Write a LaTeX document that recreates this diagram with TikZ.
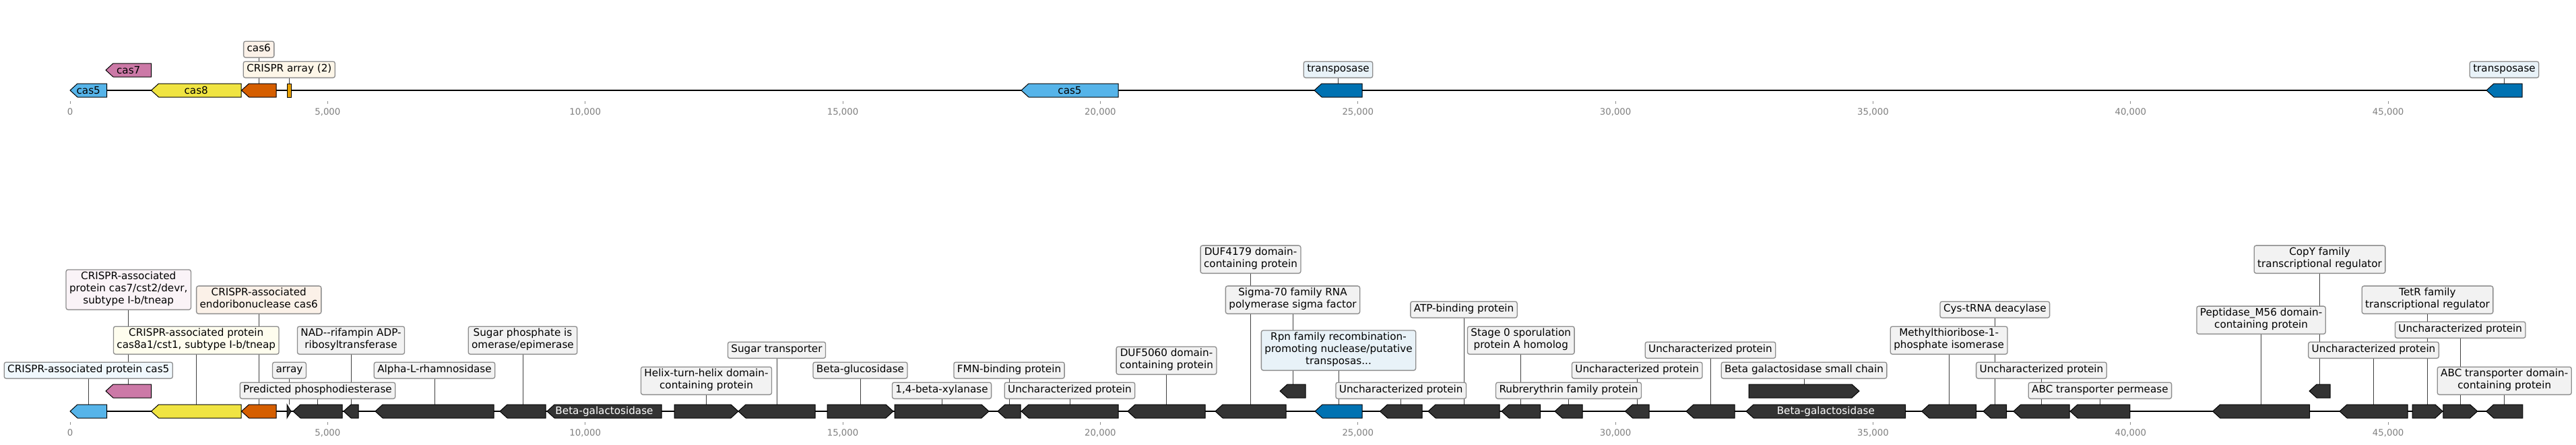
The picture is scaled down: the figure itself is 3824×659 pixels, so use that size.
\documentclass[tikz,border=0pt]{standalone}
\usepackage{fontspec}
\setmainfont{DejaVu Sans}
\usetikzlibrary{positioning,backgrounds}

\definecolor{cfive}{HTML}{56B4E9}
\definecolor{cseven}{HTML}{CC79A7}
\definecolor{ceight}{HTML}{F0E442}
\definecolor{csix}{HTML}{D55E00}
\definecolor{carray}{HTML}{E69F00}
\definecolor{ctnp}{HTML}{0072B2}
\definecolor{cdark}{HTML}{333333}
\definecolor{cbox}{HTML}{F2F2F2}

% gene arrows: name, start, end, y centre, fill
\newcommand{\genel}[5]{%
  \draw[gene, fill=#5] (#2,#4) -- (#2+11,#4-10) -- (#3,#4-10) -- (#3,#4+10) -- (#2+11,#4+10) -- cycle;
  \coordinate (#1) at ({(#2+#3)/2},#4-10);
  \coordinate (#1c) at ({(#2+#3)/2},#4);}
\newcommand{\gener}[5]{%
  \draw[gene, fill=#5] (#3,#4) -- (#3-11,#4-10) -- (#2,#4-10) -- (#2,#4+10) -- (#3-11,#4+10) -- cycle;
  \coordinate (#1) at ({(#2+#3)/2},#4-10);
  \coordinate (#1c) at ({(#2+#3)/2},#4);}

\begin{document}
\begin{tikzpicture}[x=1pt, y=-1pt]
            \tikzstyle{gene}=[draw=black, line width=1pt, line join=miter]
            \tikzstyle{lab}=[draw=black!45, fill=cbox, line width=1.3pt, rounded corners=3pt,
              font=\fontsize{15.2}{18.2}\selectfont, align=center, inner xsep=5pt, inner ysep=3pt,
              execute at begin node=\strut, execute at end node=\strut]
            \tikzstyle{glab}=[font=\fontsize{15.2}{18.2}\selectfont, inner sep=0pt]
            \tikzstyle{conn}=[draw=black!75, line width=0.9pt]
            \tikzstyle{axis}=[line width=2.2pt, black]
            \tikzstyle{tick}=[draw=black!45, line width=0.8pt]
            \tikzstyle{num}=[font=\fontsize{13.3}{16}\selectfont, text=black!50, anchor=base, inner sep=0pt]
            \useasboundingbox (0,0) rectangle (3824,659);

            % top track
            \draw[axis] (104,134) -- (3744,134);
            \genel{T1}{104}{158.5}{134}{cfive}
            \genel{T2}{157}{224.5}{104}{cseven}
            \genel{T3}{224.5}{358}{134}{ceight}
            \genel{T4}{358.5}{410}{134}{csix}
            \draw[gene, fill=carray] (426,124) rectangle (432.6,144);
            \coordinate (T5) at (429.3,124);
            \genel{T6}{1516}{1660}{134}{cfive}
            \genel{T7}{1951}{2022}{134}{ctnp}
            \genel{T8}{3691}{3744}{134}{ctnp}
            \node[glab] (nT1) at (T1c) {cas5};
            \node[glab] (nT2) at (T2c) {cas7};
            \node[glab] (nT3) at (T3c) {cas8};
            \node[glab] (nT6) at (T6c) {cas5};
            \node[lab, fill=csix!9!white, above=38pt of T4] (LT4) {cas6};
            \node[lab, fill=carray!9!white, above=8pt of T5] (LT5) {CRISPR array (2)};
            \node[lab, fill=ctnp!9!white, above=8pt of T7] (LT7) {transposase};
            \node[lab, fill=ctnp!9!white, above=8pt of T8] (LT8) {transposase};

            % bottom track
            \draw[axis] (104,610) -- (3744,610);
            \genel{B1}{104}{158.5}{610}{cfive}
            \genel{B2}{157}{224.5}{580}{cseven}
            \genel{B3}{224.5}{358}{610}{ceight}
            \genel{B4}{358.5}{410}{610}{csix}
            \draw[gene, fill=cdark] (426,600) -- (432,610) -- (426,620) -- cycle;
            \coordinate (B5) at (429.5,600);
            \genel{B6}{435}{508}{610}{cdark}
            \genel{B7}{510}{532}{610}{cdark}
            \genel{B8}{557}{733}{610}{cdark}
            \genel{B9}{742}{810}{610}{cdark}
            \genel{B10}{812}{982}{610}{cdark}
            \gener{B11}{1001}{1096}{610}{cdark}
            \genel{B12}{1096}{1210}{610}{cdark}
            \gener{B13}{1228}{1326}{610}{cdark}
            \gener{B14}{1328}{1468}{610}{cdark}
            \genel{B15}{1481}{1515}{610}{cdark}
            \genel{B16}{1516}{1660}{610}{cdark}
            \genel{B17}{1674}{1789}{610}{cdark}
            \genel{B18}{1804}{1909}{610}{cdark}
            \genel{B19}{1900}{1938}{580}{cdark}
            \genel{B20}{1952}{2022}{610}{ctnp}
            \genel{B21}{2048.5}{2111}{610}{cdark}
            \genel{B22}{2120}{2226}{610}{cdark}
            \genel{B23}{2229}{2286.5}{610}{cdark}
            \genel{B24}{2308}{2349}{610}{cdark}
            \genel{B25}{2412.5}{2448}{610}{cdark}
            \genel{B26}{2503}{2575}{610}{cdark}
            \genel{B27}{2592}{2828.6}{610}{cdark}
            \gener{B28}{2596}{2760}{580}{cdark}
            \genel{B29}{2852.7}{2933.5}{610}{cdark}
            \genel{B30}{2944}{2978.6}{610}{cdark}
            \genel{B31}{2988.8}{3072}{610}{cdark}
            \genel{B32}{3073}{3161.8}{610}{cdark}
            \genel{B33}{3284.6}{3428.5}{610}{cdark}
            \genel{B34}{3428}{3459}{580}{cdark}
            \genel{B35}{3473}{3574}{610}{cdark}
            \gener{B36}{3581}{3626}{610}{cdark}
            \gener{B37}{3626.7}{3677.7}{610}{cdark}
            \genel{B38}{3690.7}{3744.7}{610}{cdark}
            \node[glab, text=white] (nB10) at (B10c) {Beta-galactosidase};
            \node[glab, text=white] (nB27) at (B27c) {Beta-galactosidase};

            \node[lab, fill=cfive!9!white, above=38pt of B1] (LB1) {CRISPR-associated protein cas5};
            \node[lab, fill=cseven!9!white, above=110pt of B2] (LB2) {CRISPR-associated\\protein cas7/cst2/devr,\\subtype I-b/tneap};
            \node[lab, fill=ceight!9!white, above=74pt of B3] (LB3) {CRISPR-associated protein\\cas8a1/cst1, subtype I-b/tneap};
            \node[lab, fill=csix!9!white, above=134pt of B4] (LB4) {CRISPR-associated\\endoribonuclease cas6};
            \node[lab, above=38pt of B5] (LB5) {array};
            \node[lab, above=8pt of B6] (LB6) {Predicted phosphodiesterase};
            \node[lab, above=74pt of B7] (LB7) {NAD-{}-rifampin ADP-\\ribosyltransferase};
            \node[lab, above=38pt of B8] (LB8) {Alpha-L-rhamnosidase};
            \node[lab, above=74pt of B9] (LB9) {Sugar phosphate is\\omerase/epimerase};
            \node[lab, above=14pt of B11] (LB11) {Helix-turn-helix domain-\\containing protein};
            \node[lab, above=68pt of B12] (LB12) {Sugar transporter};
            \node[lab, above=38pt of B13] (LB13) {Beta-glucosidase};
            \node[lab, above=8pt of B14] (LB14) {1,4-beta-xylanase};
            \node[lab, above=38pt of B15] (LB15) {FMN-binding protein};
            \node[lab, above=8pt of B16] (LB16) {Uncharacterized protein};
            \node[lab, above=44pt of B17] (LB17) {DUF5060 domain-\\containing protein};
            \node[lab, above=194pt of B18] (LB18) {DUF4179 domain-\\containing protein};
            \node[lab, above=104pt of B19] (LB19) {Sigma-70 family RNA\\polymerase sigma factor};
            \node[lab, fill=ctnp!9!white, above=50pt of B20] (LB20) {Rpn family recombination-\\promoting nuclease/putative\\transposas...};
            \node[lab, above=8pt of B21] (LB21) {Uncharacterized protein};
            \node[lab, above=128pt of B22] (LB22) {ATP-binding protein};
            \node[lab, above=74pt of B23] (LB23) {Stage 0 sporulation\\protein A homolog};
            \node[lab, above=8pt of B24] (LB24) {Rubrerythrin family protein};
            \node[lab, above=38pt of B25] (LB25) {Uncharacterized protein};
            \node[lab, above=68pt of B26] (LB26) {Uncharacterized protein};
            \node[lab, above=8pt of B28] (LB28) {Beta galactosidase small chain};
            \node[lab, above=74pt of B29] (LB29) {Methylthioribose-1-\\phosphate isomerase};
            \node[lab, above=128pt of B30] (LB30) {Cys-tRNA deacylase};
            \node[lab, above=38pt of B31] (LB31) {Uncharacterized protein};
            \node[lab, above=8pt of B32] (LB32) {ABC transporter permease};
            \node[lab, above=104pt of B33] (LB33) {Peptidase\_M56 domain-\\containing protein};
            \node[lab, above=164pt of B34] (LB34) {CopY family\\transcriptional regulator};
            \node[lab, above=68pt of B35] (LB35) {Uncharacterized protein};
            \node[lab, above=134pt of B36] (LB36) {TetR family\\transcriptional regulator};
            \node[lab, above=98pt of B37] (LB37) {Uncharacterized protein};
            \node[lab, above=14pt of B38] (LB38) {ABC transporter domain-\\containing protein};

            % connectors behind the boxes
            \begin{pgfonlayer}{background}
              \fill[white] (0,0) rectangle (3824,659);
              \foreach \g in {T4,T5,T7,T8,B1,B2,B3,B4,B5,B6,B7,B8,B9,B11,B12,B13,B14,B15,B16,B17,B18,B19,
                B20,B21,B22,B23,B24,B25,B26,B28,B29,B30,B31,B32,B33,B34,B35,B36,B37,B38}
                \draw[conn] (\g) -- (L\g);
            \end{pgfonlayer}

            % scale
            \foreach \k/\t in {0/0,1/{5,000},2/{10,000},3/{15,000},4/{20,000},5/{25,000},6/{30,000},7/{35,000},8/{40,000},9/{45,000}} {
              \draw[tick] ({104+\k*382.35},150) -- ({104+\k*382.35},154);
              \node[num] (ta\k) at ({104+\k*382.35},170.7) {\t};
              \draw[tick] ({104+\k*382.35},626) -- ({104+\k*382.35},630);
              \node[num] (tb\k) at ({104+\k*382.35},646.7) {\t};
            }
        \end{tikzpicture}
\end{document}
